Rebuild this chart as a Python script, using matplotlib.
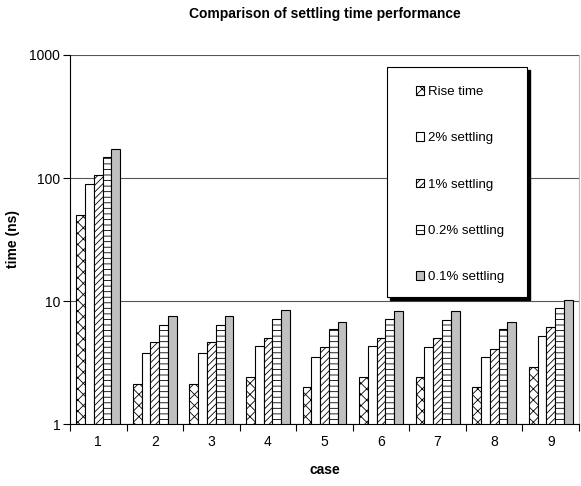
import numpy as np
import matplotlib
matplotlib.use('Agg')
import matplotlib.pyplot as plt
from matplotlib.patches import Rectangle

plt.rcParams['font.family'] = ['Liberation Sans', 'DejaVu Sans']
plt.rcParams['hatch.linewidth'] = 0.6

# Settling time data (ns)
cases = ['1', '2', '3', '4', '5', '6', '7', '8', '9']
rise_time = [50, 2.1, 2.1, 2.4, 2.0, 2.4, 2.4, 2.0, 2.9]
settling_2 = [90, 3.8, 3.8, 4.3, 3.5, 4.3, 4.2, 3.5, 5.2]
settling_1 = [106, 4.6, 4.6, 5.0, 4.2, 5.0, 5.0, 4.1, 6.1]
settling_02 = [149, 6.4, 6.4, 7.1, 5.9, 7.1, 7.0, 5.9, 8.7]
settling_01 = [172, 7.5, 7.5, 8.4, 6.8, 8.3, 8.3, 6.8, 10.1]

series = [
    ('Rise time', rise_time, 'white', 'xxx'),
    ('2% settling', settling_2, 'white', ''),
    ('1% settling', settling_1, 'white', '/////'),
    ('0.2% settling', settling_02, 'white', '---'),
    ('0.1% settling', settling_01, '#c0c0c0', ''),
]

fig = plt.figure(figsize=(5.81, 4.86), dpi=100)
ax = fig.add_axes([70 / 581, 1 - 424 / 486, 509 / 581, 369 / 486])

x = np.arange(len(cases))
width = 0.155
handles = []
for i, (label, vals, color, hatch) in enumerate(series):
    offset = (i - 2) * width
    b = ax.bar(x + offset, vals, width, bottom=0, color=color, hatch=hatch,
               edgecolor='black', linewidth=0.8, label=label)
    handles.append(b)

ax.set_yscale('log')
ax.set_ylim(1, 1000)
ax.set_xlim(-0.5, len(cases) - 0.5)
ax.set_yticks([1, 10, 100, 1000])
ax.set_yticklabels(['1', '10', '100', '1000'])
ax.yaxis.set_minor_locator(matplotlib.ticker.NullLocator())

# category labels in the middle, ticks at the boundaries
ax.set_xticks(x)
ax.set_xticklabels(cases)
ax.tick_params(axis='x', length=0, labelsize=10, pad=8)
ax.set_xticks(np.arange(len(cases) + 1) - 0.5, minor=True)
ax.tick_params(axis='x', which='minor', length=5, width=0.8, direction='out')
ax.tick_params(axis='y', length=5, width=0.8, labelsize=10, pad=2)

ax.grid(axis='y', which='major', color='#555555', linewidth=0.8)
ax.set_axisbelow(True)
ax.spines['top'].set_visible(False)
ax.spines['right'].set_color('#bbbbbb')
ax.spines['right'].set_linewidth(0.8)

ax.set_xlabel('case', fontsize=10, fontweight='bold', labelpad=10)
ax.set_ylabel('time (ns)', fontsize=10, fontweight='bold')
ax.yaxis.set_label_coords((20 - 70) / 509, 0.5)

fig.text((70 + 509 / 2) / 581, 1 - 14 / 486, 'Comparison of settling time performance',
         ha='center', va='center', fontsize=10, fontweight='bold')

# legend box with a drop shadow
bx0, by0 = (387 - 70) / 509, (424 - 297) / 369
bw, bh = (527 - 387) / 509, (297 - 67) / 369
ax.add_patch(Rectangle((bx0 + 3 / 509, by0 - 3 / 369), bw, bh, transform=ax.transAxes,
                       facecolor='black', edgecolor='black', zorder=5, clip_on=False))
ax.add_patch(Rectangle((bx0, by0), bw, bh, transform=ax.transAxes,
                       facecolor='white', edgecolor='black', linewidth=0.8, zorder=6,
                       clip_on=False))
leg = ax.legend(handles=handles, loc='upper left',
                bbox_to_anchor=((422 - 70) / 509 - 0.012, (424 - 86) / 369),
                frameon=False, fontsize=9.5, labelspacing=2.6,
                handlelength=0.65, handleheight=0.65, handletextpad=0.3,
                borderpad=0, borderaxespad=0)
leg.set_zorder(7)

fig.savefig('out.png', dpi=100)
